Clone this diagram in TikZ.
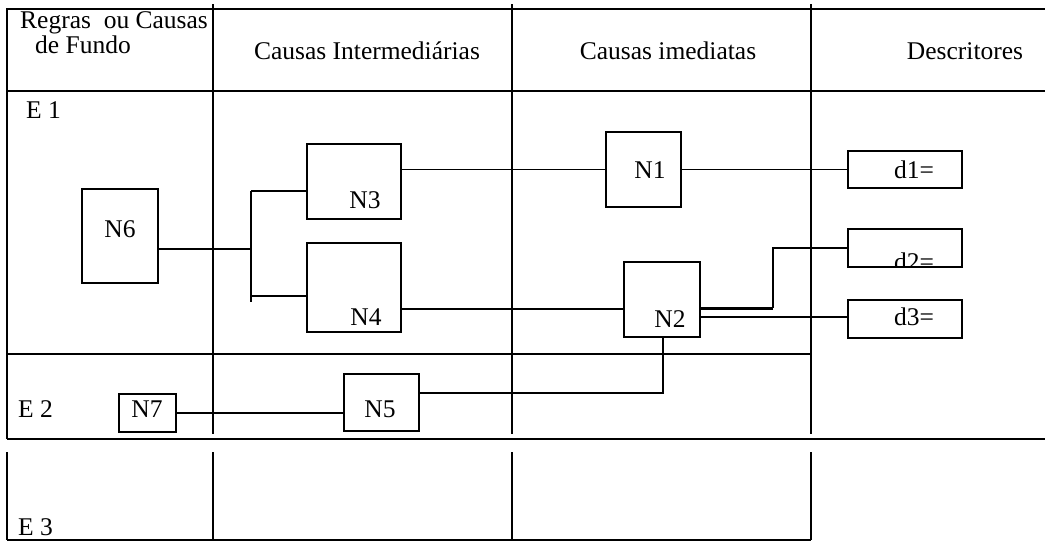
\documentclass[tikz,border=0pt]{standalone}
\usepackage{fontspec}
\setmainfont{Liberation Serif}
\begin{document}
\begin{tikzpicture}[x=1pt,y=-1pt,
  grid/.style={line width=2.6pt},
  box/.style={draw,line width=2.2pt,inner sep=0pt,outer sep=0pt},
  conn/.style={line width=1.8pt},
  boldconn/.style={line width=3pt},
  lbl/.style={inner sep=0pt,anchor=base,font=\fontsize{25.5}{30}\selectfont},
]
\useasboundingbox (0,0) rectangle (1045,542);

% table grid
\draw[grid] (7,9) -- (1045,9);
\draw[grid] (7,91) -- (1045,91);
\draw[grid] (7,354) -- (811,354);
\draw[grid] (7,439) -- (1045,439);
\draw[grid] (7,540) -- (811,540);
\draw[grid] (7,8) -- (7,439);
\draw[grid] (7,452) -- (7,540);
\foreach \x in {213,512,811} {
  \draw[grid] (\x,4) -- (\x,434);
  \draw[grid] (\x,452) -- (\x,540);
}

% header and row texts
\node[lbl,anchor=base west] (h1a) at (20,28) {Regras\ \ ou Causas};
\node[lbl,anchor=base west] (h1b) at (35,53) {de Fundo};
\node[lbl] (h2) at (367,59) {Causas Intermediárias};
\node[lbl] (h3) at (668,59) {Causas imediatas};
\node[lbl] (h4) at (965,59) {Descritores};
\node[lbl,anchor=base west] (e1) at (26,118) {E 1};
\node[lbl,anchor=base west] (e2) at (18,417) {E 2};
\node[lbl,anchor=base west] (e3) at (18,535) {E 3};

% boxes
\node[box,minimum width=76pt,minimum height=94pt] (n6) at (120,236) {};
\node[box,minimum width=94pt,minimum height=75pt] (n3) at (354,181.5) {};
\node[box,minimum width=94pt,minimum height=89pt] (n4) at (354,287.5) {};
\node[box,minimum width=75pt,minimum height=75pt] (n1) at (643.5,169.5) {};
\node[box,minimum width=76pt,minimum height=75pt] (n2) at (662,299.5) {};
\node[box,minimum width=75pt,minimum height=57pt] (n5) at (381.5,402.5) {};
\node[box,minimum width=57pt,minimum height=38pt] (n7) at (147.5,413) {};
\node[box,minimum width=114pt,minimum height=37pt] (d1) at (905,169.5) {};
\begin{scope}
  \clip (800,200) rectangle (1000,267);
  \node[lbl] (d2t) at (914,270) {d2=};
\end{scope}
\node[box,minimum width=114pt,minimum height=38pt] (d2) at (905,248) {};
\node[box,minimum width=114pt,minimum height=38pt] (d3) at (905,319) {};

% box labels
\node[lbl] (n6t) at (120,237) {N6};
\node[lbl] (n3t) at (365,208) {N3};
\node[lbl] (n4t) at (366,325) {N4};
\node[lbl] (n1t) at (650,178) {N1};
\node[lbl] (n2t) at (670,327) {N2};
\node[lbl] (n5t) at (380,417) {N5};
\node[lbl] (n7t) at (147,417) {N7};
\node[lbl] (d1t) at (914,178) {d1=};
\node[lbl] (d3t) at (914,325) {d3=};

% junction coordinates
\coordinate (jm) at (251,249);
\coordinate (jt) at (251,191);
\coordinate (jb) at (251,302);
\coordinate (j4) at (251,296);
\coordinate (c42) at (500,309);
\coordinate (k) at (773,308);
\coordinate (m) at (500,393);

% connectors
\draw[conn] (n6.east |- jm) -- (jm);
\draw[conn] (jt) -- (jb);
\draw[conn] (jt) -- (jt -| n3.west);
\draw[conn] (j4) -- (j4 -| n4.west);
\draw[conn] (n3.east |- n1.west) -- (n1.west);
\draw[conn] (n1.east) -- (d1.west);
\draw[conn] (n4.east |- c42) -- (n2.west |- c42);
\draw[boldconn] (n2.east |- k) -- (k);
\draw[conn] (k) |- (d2.west);
\draw[conn] (n2.east |- 0,317) -- (d3.west |- 0,317);
\draw[conn] ([xshift=1pt]n2.south) |- (n5.east |- m);
\draw[conn] (n7.east) -- (n5.west |- n7.east);
\end{tikzpicture}
\end{document}
